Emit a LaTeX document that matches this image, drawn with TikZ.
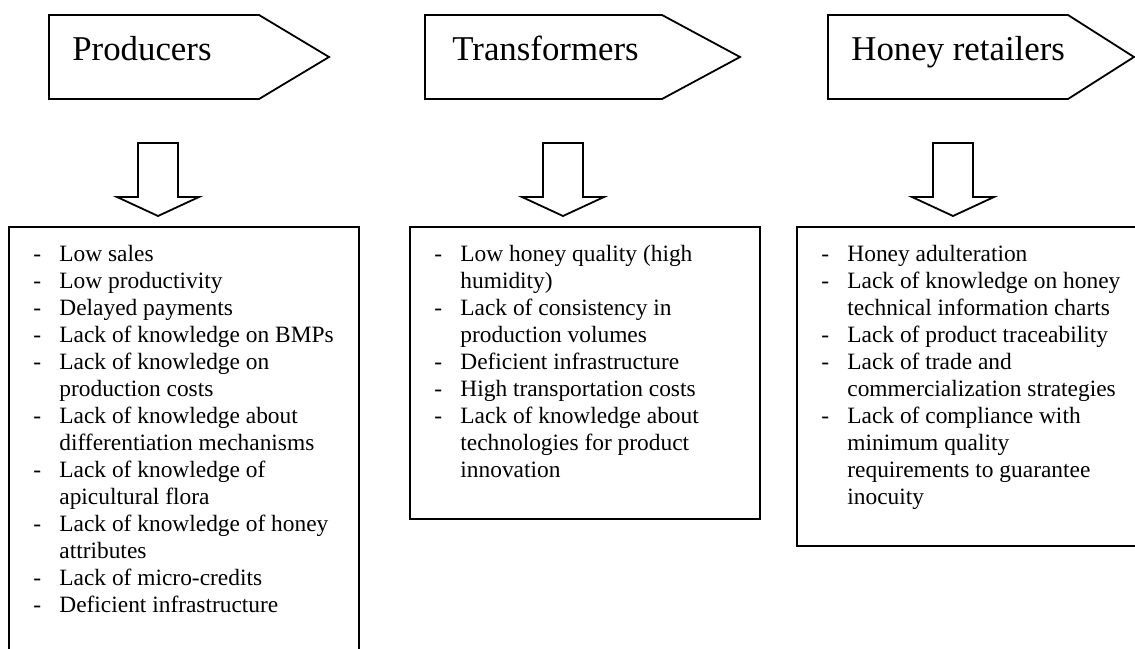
\documentclass[tikz,border=0pt]{standalone}
\usepackage{fontspec}
\setmainfont{Liberation Serif}

\tikzset{
  outline/.style={draw=black, line width=0.9pt, line join=miter},
  title/.style={font=\fontsize{17.4}{20}\selectfont, inner sep=0pt, anchor=base west},
  listtext/.style={font=\fontsize{11.7}{13.5}\selectfont, inner sep=0pt, anchor=base west},
}
\newcommand{\firstln}[1]{\makebox[13pt][l]{-}#1\\}
\newcommand{\nextln}[1]{\hspace*{13pt}#1\\}

\begin{document}
\begin{tikzpicture}[x=0.5pt, y=-0.5pt]

\useasboundingbox (0,0) rectangle (1135,648);

% Chain links (pentagon tags)
\draw[outline] (49,15) -- (259,15) -- (329,57) -- (259,99) -- (49,99) -- cycle;
\draw[outline] (425,15) -- (662,15) -- (740,57) -- (662,99) -- (425,99) -- cycle;
\draw[outline] (828,15) -- (1068,15) -- (1134,57) -- (1068,99) -- (828,99) -- cycle;

\node[title] (producers) at (72,61) {Producers};
\node[title] (transformers) at (452,61) {Transformers};
\node[title] (retailers) at (851,61) {Honey retailers};

% Block arrows
\foreach \cx in {158,563,953}
  \draw[outline] (\cx-20,143) -- (\cx+20,143) -- (\cx+20,197) -- (\cx+41,197)
    -- (\cx,216) -- (\cx-41,197) -- (\cx-20,197) -- cycle;

% Problem boxes
\draw[outline] (9,660) -- (9,227) -- (359,227) -- (359,660);
\draw[outline] (410,227) rectangle (760,519);
\draw[outline] (1145,546) -- (797,546) -- (797,227) -- (1145,227);

% Problems of producers
\node[listtext] (prodlist) at (33,261) {\begin{tabular}[t]{@{}l@{}}
\firstln{Low sales}
\firstln{Low productivity}
\firstln{Delayed payments}
\firstln{Lack of knowledge on BMPs}
\firstln{Lack of knowledge on}
\nextln{production costs}
\firstln{Lack of knowledge about}
\nextln{differentiation mechanisms}
\firstln{Lack of knowledge of}
\nextln{apicultural flora}
\firstln{Lack of knowledge of honey}
\nextln{attributes}
\firstln{Lack of micro-credits}
\firstln{Deficient infrastructure}
\end{tabular}};

% Problems of transformers
\node[listtext] (translist) at (434,261) {\begin{tabular}[t]{@{}l@{}}
\firstln{Low honey quality (high}
\nextln{humidity)}
\firstln{Lack of consistency in}
\nextln{production volumes}
\firstln{Deficient infrastructure}
\firstln{High transportation costs}
\firstln{Lack of knowledge about}
\nextln{technologies for product}
\nextln{innovation}
\end{tabular}};

% Problems of retailers
\node[listtext] (retlist) at (821,261) {\begin{tabular}[t]{@{}l@{}}
\firstln{Honey adulteration}
\firstln{Lack of knowledge on honey}
\nextln{technical information charts}
\firstln{Lack of product traceability}
\firstln{Lack of trade and}
\nextln{commercialization strategies}
\firstln{Lack of compliance with}
\nextln{minimum quality}
\nextln{requirements to guarantee}
\nextln{inocuity}
\end{tabular}};

\end{tikzpicture}
\end{document}
